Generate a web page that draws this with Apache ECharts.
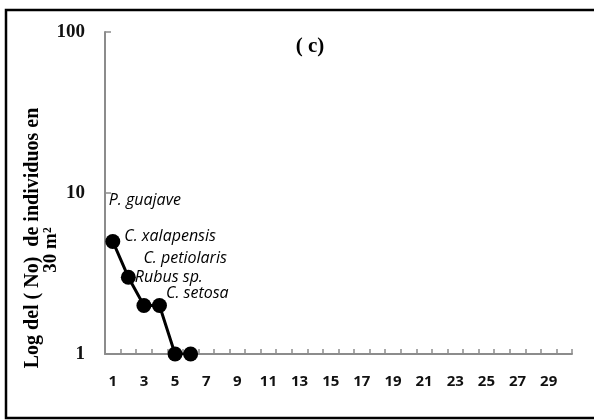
<!DOCTYPE html>
<html><head><meta charset="utf-8">
<script src="https://cdn.jsdelivr.net/npm/echarts@6/dist/echarts.min.js"></script>
<style>html,body{margin:0;padding:0;background:#fff}#c{width:594px;height:420px}</style>
</head><body><div id="c"></div>
<script>
const categories = Array.from({length: 30}, (_, i) => String(i + 1));
const abundance = [5, 3, 2, 2, 1, 1];
const species = ['C. xalapensis', 'Rubus sp.', 'C. petiolaris', 'C. setosa', '', ''];
const extraLabel = {name: 'P. guajave', value: 9};
const yTicks = [1, 10, 100];
const title = '( c)';
const yName1 = 'Log del ( No)  de individuos en';
const yName2 = '30 m\u00B2';

const labelOffsets = [[4, -5], [-1, 0], [-8, -47], [-1, -12], [0, 0], [0, 0]];
const labelStyle = {fontFamily: 'Open Sans', fontStyle: 'italic', fontWeight: 500, fontSize: 16, color: '#000'};

const lineData = abundance.map((v, i) => ({
  value: v,
  label: {show: !!species[i], position: 'right', distance: 0, offset: labelOffsets[i],
    formatter: species[i], ...labelStyle}
}));

const chart = echarts.init(document.getElementById('c'), null, {renderer: 'canvas'});
chart.setOption({
  animation: false,
  backgroundColor: '#fff',
  grid: {left: 105, right: 22, top: 32, bottom: 66, containLabel: false},
  xAxis: {
    type: 'category', data: categories, boundaryGap: true,
    axisLine: {lineStyle: {color: '#8c8c8c', width: 2}},
    axisTick: {show: true, inside: true, length: 5, interval: 0, lineStyle: {color: '#8c8c8c', width: 1.5}},
    axisLabel: {interval: 1, margin: 20, fontFamily: 'Open Sans', fontWeight: 'bold', fontSize: 15, color: '#111'},
    splitLine: {show: false}
  },
  yAxis: {
    type: 'log', logBase: 10, min: yTicks[0], max: yTicks[yTicks.length - 1],
    axisLine: {show: true, lineStyle: {color: '#8c8c8c', width: 2}},
    axisTick: {show: true, inside: true, length: 6, lineStyle: {color: '#8c8c8c', width: 1.5}},
    axisLabel: {margin: 20, fontFamily: 'Liberation Serif', fontWeight: 'bold', fontSize: 19, color: '#111'},
    splitLine: {show: false},
    minorTick: {show: false}
  },
  title: {text: title, left: 305, top: 31, textAlign: 'center',
    textStyle: {fontFamily: 'Liberation Serif', fontWeight: 'bold', fontSize: 21, color: '#000'}},
  series: [
    {
      type: 'line', data: lineData, symbol: 'circle', symbolSize: 15, showAllSymbol: true,
      lineStyle: {color: '#000', width: 3}, itemStyle: {color: '#000'}, z: 5
    },
    {
      type: 'scatter', data: [{value: [0, extraLabel.value]}], symbolSize: 0,
      itemStyle: {opacity: 1, color: '#000'},
      label: {show: true, position: 'right', distance: 0, offset: [-4, 0], formatter: extraLabel.name, ...labelStyle}
    }
  ],
  graphic: [
    {type: 'rect', shape: {x: 6, y: 10, width: 620, height: 408}, style: {fill: 'none', stroke: '#000', lineWidth: 2.5}, silent: true},
    {type: 'text', x: 33, y: 238, rotation: Math.PI / 2,
      style: {text: yName1, textAlign: 'center', textVerticalAlign: 'middle', font: 'bold 20px "Liberation Serif"', fill: '#000'}},
    {type: 'text', x: 51, y: 250, rotation: Math.PI / 2,
      style: {text: yName2, textAlign: 'center', textVerticalAlign: 'middle', font: 'bold 19px "Liberation Serif"', fill: '#000'}}
  ]
});
</script></body></html>
